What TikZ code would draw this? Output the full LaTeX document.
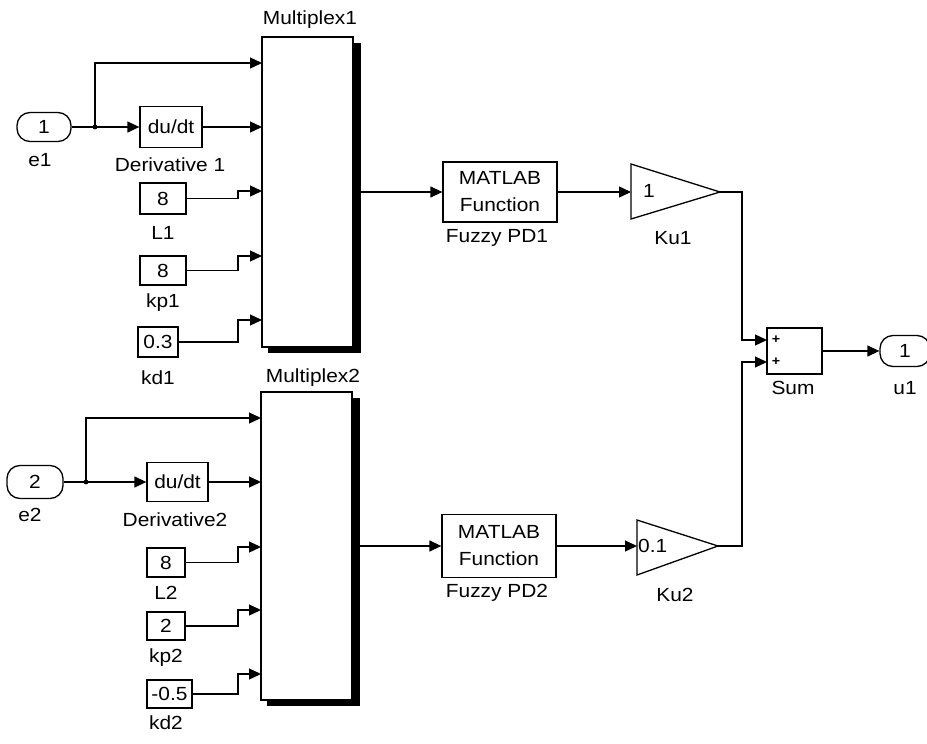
\documentclass[tikz,border=0pt]{standalone}
\usepackage{fontspec}
\setmainfont{Liberation Sans}[FakeStretch=1.1]
\usetikzlibrary{arrows.meta}
\begin{document}
\begin{tikzpicture}[x=1pt,y=-1pt,
  every node/.style={font=\fontsize{19}{21}\selectfont},
  blk/.style={draw, line width=1.3pt, fill=white, inner sep=0pt},
  lbl/.style={inner sep=0pt},
  inport/.style={blk, rounded corners=13pt},
  shadow/.style={fill=black, inner sep=0pt},
  wire/.style={line width=1.3pt, -{Triangle[length=12pt,width=11pt]}},
  plain/.style={line width=1.3pt},
  gain/.style={line width=1.3pt, fill=white},
  plus/.style={inner sep=0pt, font=\fontsize{13}{13}\selectfont\bfseries}]
\useasboundingbox (0,0) rectangle (927,744);
\coordinate (bx) at (238,0);
\coordinate (sx) at (742,0);

% ---------- upper chain ----------
\node[inport, minimum width=54pt, minimum height=29pt] (e1) at (44,127) {1};
\node[lbl] (e1l) at (40,160) {e1};
\coordinate (j1) at (95,127);
\node[blk, minimum width=62pt, minimum height=41pt] (d1) at (171,127) {du/dt};
\node[lbl] (d1l) at (170,165) {Derivative 1};

\node[shadow, minimum width=93pt, minimum height=310pt] (m1s) at (314.5,198) {};
\node[blk, minimum width=91pt, minimum height=310pt] (m1) at (307.5,192) {};
\node[lbl] (m1l) at (310,20) {Multiplex1};
\coordinate (m1a) at (262,63);
\coordinate (m1b) at (262,127);
\coordinate (m1c) at (262,191);
\coordinate (m1d) at (262,256);
\coordinate (m1e) at (262,320);

\node[blk, minimum width=46pt, minimum height=31pt] (L1) at (163,198.5) {8};
\node[lbl] (L1l) at (163,233) {L1};
\node[blk, minimum width=46pt, minimum height=29pt] (kp1) at (163,270.5) {8};
\node[lbl] (kp1l) at (163,303) {kp1};
\node[blk, minimum width=40pt, minimum height=30pt] (kd1) at (158,342) {0.3};
\node[lbl] (kd1l) at (158,378) {kd1};

\draw[plain] (e1.east) -- (j1);
\fill (j1) circle (2.4pt);
\draw[wire] (j1) -- (d1.west);
\draw[wire] (j1) |- (m1a);
\draw[wire] (d1.east) -- (m1b);
\draw[wire] (L1.east) -- (L1.east -| bx) |- (m1c);
\draw[wire] (kp1.east) -- (kp1.east -| bx) |- (m1d);
\draw[wire] (kd1.east) -- (kd1.east -| bx) |- (m1e);

\node[blk, minimum width=114pt, minimum height=60pt, align=center,
      font=\fontsize{19}{27}\selectfont] (f1) at (500,192) {MATLAB\\Function};
\node[lbl] (f1l) at (497,238) {Fuzzy PD1};
\draw[wire] (m1s.east |- f1) -- (f1.west);

\coordinate (g1in) at (631,192);
\coordinate (g1out) at (720,192);
\draw[gain] (631,164) -- (g1out) -- (631,219) -- cycle;
\node[lbl, anchor=west] (g1t) at (643,191) {1};
\node[lbl] (g1l) at (673,238) {Ku1};
\draw[wire] (f1.east) -- (g1in);

% ---------- sum and output ----------
\node[blk, minimum width=55pt, minimum height=46pt] (sum) at (794.5,351) {};
\node[plus] (sp1) at (776,340) {+};
\node[plus] (sp2) at (776,362) {+};
\node[lbl] (suml) at (793,388) {Sum};
\coordinate (s1in) at (767,340);
\coordinate (s2in) at (767,362);
\node[inport, minimum width=50pt, minimum height=31pt] (u1) at (905,351) {1};
\node[lbl] (u1l) at (905,388) {u1};
\draw[wire] (sum.east) -- (u1.west);
\draw[wire] (g1out) -- (g1out -| sx) |- (s1in);

% ---------- lower chain ----------
\node[inport, minimum width=56pt, minimum height=33pt] (e2) at (35,482) {2};
\node[lbl] (e2l) at (30,515) {e2};
\coordinate (j2) at (86,482);
\node[blk, minimum width=61pt, minimum height=39pt] (d2) at (177.5,482) {du/dt};
\node[lbl] (d2l) at (175,520) {Derivative2};

\node[shadow, minimum width=93pt, minimum height=308pt] (m2s) at (313.5,552) {};
\node[blk, minimum width=91pt, minimum height=308pt] (m2) at (306.5,546) {};
\node[lbl] (m2l) at (313,378) {Multiplex2};
\coordinate (m2a) at (261,418);
\coordinate (m2b) at (261,482);
\coordinate (m2c) at (261,547);
\coordinate (m2d) at (261,610);
\coordinate (m2e) at (261,674);

\node[blk, minimum width=38pt, minimum height=29pt] (L2) at (166,562.5) {8};
\node[lbl] (L2l) at (166,593) {L2};
\node[blk, minimum width=38pt, minimum height=28pt] (kp2) at (166,626) {2};
\node[lbl] (kp2l) at (166,658) {kp2};
\node[blk, minimum width=45pt, minimum height=28pt] (kd2) at (169.5,694) {-0.5};
\node[lbl] (kd2l) at (166,723) {kd2};

\draw[plain] (e2.east) -- (j2);
\fill (j2) circle (2.4pt);
\draw[wire] (j2) -- (d2.west);
\draw[wire] (j2) |- (m2a);
\draw[wire] (d2.east) -- (m2b);
\draw[wire] (L2.east) -- (L2.east -| bx) |- (m2c);
\draw[wire] (kp2.east) -- (kp2.east -| bx) |- (m2d);
\draw[wire] (kd2.east) -- (kd2.east -| bx) |- (m2e);

\node[blk, minimum width=114pt, minimum height=63pt, align=center,
      font=\fontsize{19}{27}\selectfont] (f2) at (499,546) {MATLAB\\Function};
\node[lbl] (f2l) at (497,593) {Fuzzy PD2};
\draw[wire] (m2s.east |- f2) -- (f2.west);

\coordinate (g2in) at (637,546);
\coordinate (g2out) at (718,546);
\draw[gain] (637,520) -- (g2out) -- (637,575) -- cycle;
\node[lbl, anchor=west] (g2t) at (638,546) {0.1};
\node[lbl] (g2l) at (675,595) {Ku2};
\draw[wire] (f2.east) -- (g2in);
\draw[wire] (g2out) -- (g2out -| sx) |- (s2in);
\end{tikzpicture}
\end{document}
